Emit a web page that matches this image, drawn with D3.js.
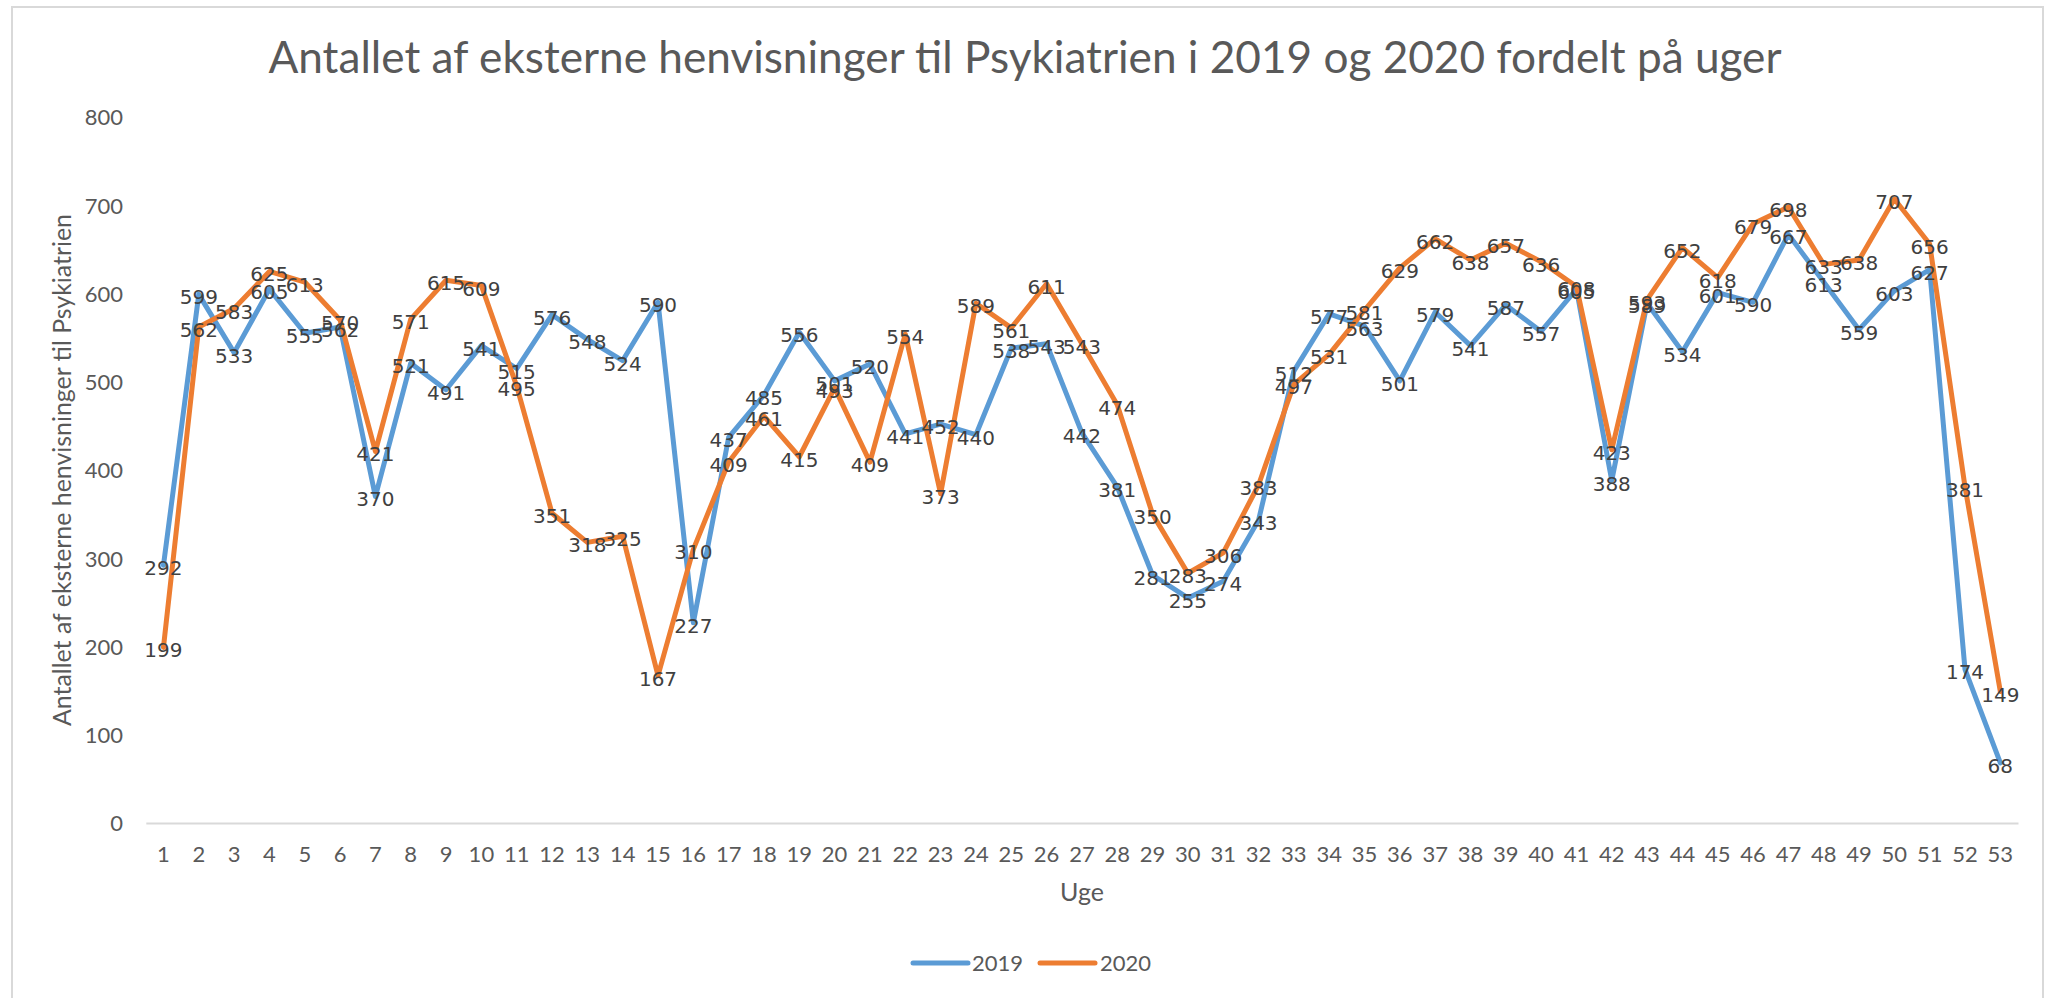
<!DOCTYPE html>
<html>
<head>
<meta charset="utf-8">
<script src="https://cdn.jsdelivr.net/npm/d3@7"></script>
<style>
  html, body { margin: 0; padding: 0; background: #fff; }
  svg { display: block; }
</style>
</head>
<body>
<svg id="chart" width="2051" height="998"></svg>
<script>
const weeks = d3.range(1, 54).map(String);
const values2019 = [292,599,533,605,555,562,370,521,491,541,515,576,548,524,590,227,437,485,556,501,520,441,452,440,538,543,442,381,281,255,274,343,512,577,563,501,579,541,587,557,605,388,589,534,601,590,667,613,559,603,627,174,68];
const values2020 = [199,562,583,625,613,570,421,571,615,609,495,351,318,325,167,310,409,461,415,493,409,554,373,589,561,611,543,474,350,283,306,383,497,531,581,629,662,638,657,636,608,423,593,652,618,679,698,633,638,707,656,381,149];
const seriesNames = ["2019", "2020"];
const seriesColors = ["#5B9BD5", "#ED7D31"];
const yTicks = [0,100,200,300,400,500,600,700,800];
const titleText = "Antallet af eksterne henvisninger til Psykiatrien i 2019 og 2020 fordelt på uger";
const yTitle = "Antallet af eksterne henvisninger til Psykiatrien";
const xTitle = "Uge";

const series = [
  {name: seriesNames[0], color: seriesColors[0], values: values2019},
  {name: seriesNames[1], color: seriesColors[1], values: values2020}
];

const svg = d3.select("#chart");
const uiFont = "Lato, 'Liberation Sans', Arial, sans-serif";
const labelFont = "'DejaVu Sans', Verdana, sans-serif";

// chart frame
svg.append("rect").attr("x", 12).attr("y", 7).attr("width", 2031).attr("height", 1000)
  .attr("fill", "#fff").attr("stroke", "#d9d9d9").attr("stroke-width", 2);

const x = d3.scaleBand().domain(weeks).range([145.8, 2018]).paddingInner(0).paddingOuter(0);
const y = d3.scaleLinear().domain([0, 800]).range([823, 117]);
const cx = w => x(w) + x.bandwidth() / 2;

// title
svg.append("text").attr("x", 1025).attr("y", 73).attr("text-anchor", "middle")
  .attr("font-family", uiFont).attr("font-weight", 400).attr("font-size", 45)
  .attr("fill", "#595959").attr("textLength", 1513).attr("lengthAdjust", "spacingAndGlyphs")
  .text(titleText);

// y axis (labels only)
const yAxis = d3.axisLeft(y).tickValues(yTicks).tickSize(0).tickPadding(0);
const gy = svg.append("g").attr("transform", "translate(123,0)").call(yAxis);
gy.select(".domain").remove();
gy.selectAll("text").attr("font-family", uiFont).attr("font-size", 22)
  .attr("fill", "#595959").attr("dy", "0.36em");

// x axis
const xAxis = d3.axisBottom(x).tickSize(0).tickPadding(0);
const gx = svg.append("g").attr("transform", "translate(0,823)").call(xAxis);
gx.select(".domain").attr("stroke", "#d9d9d9").attr("stroke-width", 2);
gx.selectAll("text").attr("font-family", uiFont).attr("font-size", 22)
  .attr("fill", "#595959").attr("y", 39).attr("dy", 0);

// axis titles
svg.append("text").attr("transform", "translate(71,470) rotate(-90)")
  .attr("text-anchor", "middle").attr("font-family", uiFont).attr("font-size", 25)
  .attr("fill", "#595959").attr("textLength", 512).attr("lengthAdjust", "spacingAndGlyphs")
  .text(yTitle);
svg.append("text").attr("x", 1082).attr("y", 901).attr("text-anchor", "middle")
  .attr("font-family", uiFont).attr("font-size", 25).attr("fill", "#595959").text(xTitle);

// lines
const line = d3.line().x((d, i) => cx(weeks[i])).y(d => y(d));
svg.append("g").selectAll("path").data(series).join("path")
  .attr("d", s => line(s.values)).attr("fill", "none")
  .attr("stroke", s => s.color).attr("stroke-width", 5)
  .attr("stroke-linejoin", "round").attr("stroke-linecap", "round");

// data labels
const gl = svg.append("g");
series.forEach(s => {
  gl.append("g").selectAll("text").data(s.values).join("text")
    .attr("x", (d, i) => cx(weeks[i])).attr("y", d => y(d) + 10)
    .attr("text-anchor", "middle").attr("font-family", labelFont).attr("font-size", 20)
    .attr("fill", "#404040").text(d => d);
});

// legend
const legendItems = [
  {name: seriesNames[0], color: seriesColors[0], x1: 913, x2: 968, tx: 972},
  {name: seriesNames[1], color: seriesColors[1], x1: 1040, x2: 1095, tx: 1100}
];
const lg = svg.append("g");
legendItems.forEach(it => {
  lg.append("line").attr("x1", it.x1).attr("x2", it.x2).attr("y1", 963).attr("y2", 963)
    .attr("stroke", it.color).attr("stroke-width", 5).attr("stroke-linecap", "round");
  lg.append("text").attr("x", it.tx).attr("y", 971).attr("font-family", uiFont)
    .attr("font-size", 22).attr("fill", "#595959").text(it.name);
});
</script>
</body>
</html>
